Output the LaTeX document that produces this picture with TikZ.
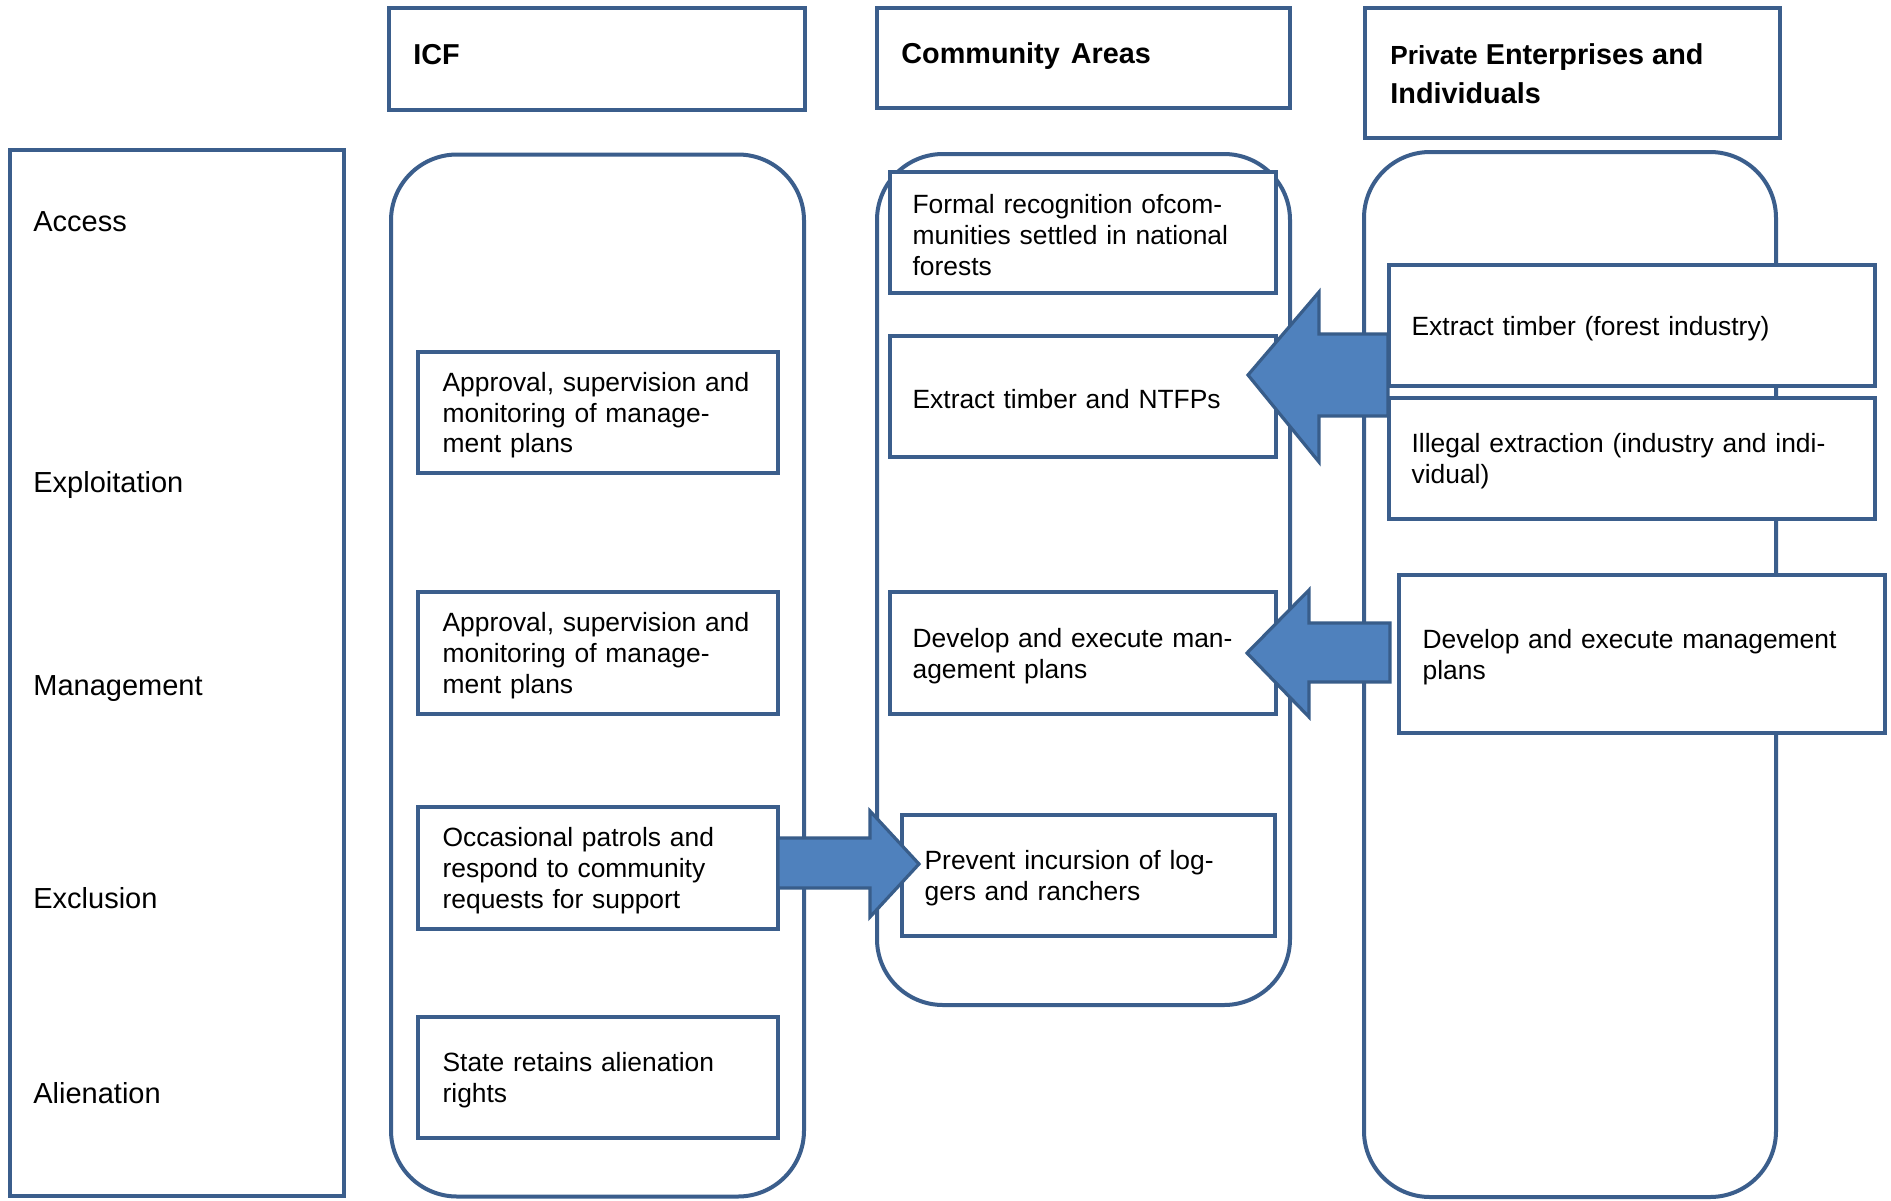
\documentclass[tikz,border=0pt]{standalone}
\usepackage{fontspec}
\setmainfont{Liberation Sans}
\definecolor{ln}{HTML}{3B5E8C}
\definecolor{af}{HTML}{4F81BD}
\definecolor{ab}{HTML}{385D8A}
\tikzset{
  ibox/.style={draw=ln, line width=2pt, fill=white, inner sep=0pt, anchor=center},
  btext/.style={align=left, inner sep=0pt, anchor=west, font=\fontsize{13.2}{15.4}\selectfont},
  colbox/.style={draw=ln, line width=2pt, rounded corners=33pt, inner sep=0pt},
  hdrbox/.style={draw=ln, line width=2pt, inner sep=0pt},
  railbox/.style={draw=ln, line width=2pt, inner sep=0pt},
  lbl/.style={anchor=base west, font=\fontsize{14.5}{17}\selectfont, inner sep=0pt},
  htxt/.style={anchor=base west, align=left, font=\fontsize{14.4}{19.5}\bfseries\selectfont, inner sep=0pt},
  barrow/.style={fill=af, draw=ab, line width=1.6pt, line join=miter},
}
% #1 name, #2 center, #3 width, #4 height, #5 inset, #6 text
\newcommand{\tbx}[6]{%
  \node[ibox, minimum width=#3, minimum height=#4] (#1) at #2 {};
  \node[btext, text width=#3-2*#5] (#1-t) at ([xshift=#5+0.6pt, yshift=-1.4pt]#1.west) {#6};
}
\begin{document}
\begin{tikzpicture}[x=0.5pt,y=-0.5pt]
\useasboundingbox (0,0) rectangle (1891,1200);
\fill[white] (0,0) rectangle (1891,1200);

% left rail
\node[railbox, minimum width=167pt, minimum height=523pt] (rail) at (177,673) {};
\node[lbl] (lacc) at (33,231) {Access};
\node[lbl] (lexp) at (33,492) {Exploitation};
\node[lbl] (lman) at (33,695) {Management};
\node[lbl] (lexc) at (33,908) {Exclusion};
\node[lbl] (lali) at (33,1103) {Alienation};

% headers
\node[hdrbox, minimum width=208pt, minimum height=51pt] (hicf) at (597,59) {};
\node[hdrbox, minimum width=206.5pt, minimum height=50pt] (hca) at (1083.5,58) {};
\node[hdrbox, minimum width=207.5pt, minimum height=65pt] (hpe) at (1572.5,73) {};
\node[htxt] (ticf) at (413,64) {ICF};
\node[htxt] (tca) at (901,63) {Community\hspace{1.5pt} Areas};
\node[htxt] (tpe1) at (1390,64) {{\fontsize{13.1}{19.5}\selectfont Private} Enterprises and};
\node[htxt] (tpe2) at (1390,103) {Individuals};

% columns
\node[colbox, minimum width=206.5pt, minimum height=521pt] (icfcol) at (597.5,675.5) {};
\node[colbox, minimum width=206.5pt, minimum height=425.5pt] (cacol) at (1083.5,579.5) {};
\node[colbox, minimum width=206pt, minimum height=522.5pt] (pecol) at (1570,674.5) {};

% ICF boxes
\tbx{i1}{(598,412.5)}{180pt}{60.5pt}{12.5pt}{Approval, supervision and\\monitoring of manage-\\ment plans}
\tbx{i2}{(598,653)}{180pt}{61pt}{12.5pt}{Approval, supervision and\\monitoring of manage-\\ment plans}
\tbx{i3}{(598,868)}{180pt}{61pt}{12.5pt}{Occasional patrols and\\respond to community\\requests for support}
\tbx{i4}{(598,1077.5)}{180pt}{60.5pt}{12.5pt}{State retains alienation\\rights}

% Community boxes
\tbx{c1}{(1083,232.5)}{193pt}{60.5pt}{11.5pt}{Formal recognition ofcom-\\munities settled in national\\forests}
\tbx{c2}{(1083,396.5)}{193pt}{60.5pt}{11.5pt}{Extract timber and NTFPs}
\tbx{c3}{(1083,653)}{193pt}{61pt}{11.5pt}{Develop and execute man-\\agement plans}
\tbx{c4}{(1088.5,875.5)}{186.5pt}{60.5pt}{11.5pt}{Prevent incursion of log-\\gers and ranchers}

% Private boxes
\tbx{p1}{(1632,325.5)}{243pt}{60.5pt}{11.5pt}{Extract timber (forest industry)}
\tbx{p2}{(1632,458.5)}{243pt}{60.5pt}{11.5pt}{Illegal extraction (industry and indi-\\vidual)}
\tbx{p3}{(1642,654)}{243pt}{79pt}{12pt}{Develop and execute management\\plans}

% block arrows
\draw[barrow] (1388,334) -- (1319,334) -- (1319,292) -- (1248,375) -- (1319,462) -- (1319,416) -- (1388,416) -- cycle;
\draw[barrow] (1390,623) -- (1309,623) -- (1309,590) -- (1247,653) -- (1309,717) -- (1309,682) -- (1390,682) -- cycle;
\draw[barrow] (778,838) -- (870,838) -- (870,811) -- (919,864) -- (870,917) -- (870,888) -- (778,888) -- cycle;
\end{tikzpicture}
\end{document}
